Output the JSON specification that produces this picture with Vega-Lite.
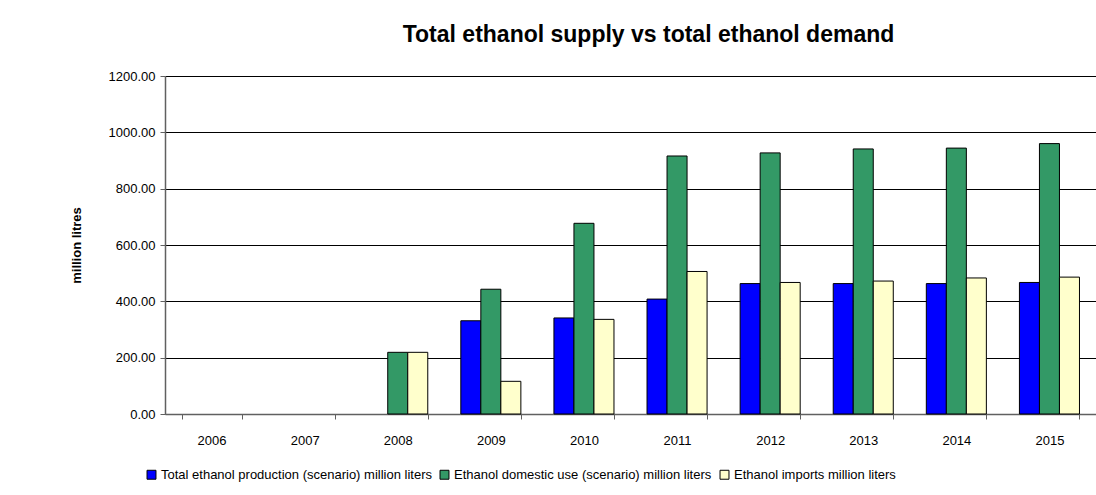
{
  "$schema": "https://vega.github.io/schema/vega-lite/v6.json",
  "autosize": {"type": "none"},
  "width": 931,
  "height": 338,
  "padding": {"left": 165, "top": 76, "right": 0, "bottom": 81},
  "background": "white",
  "title": {
    "text": "Total ethanol supply vs total ethanol demand",
    "font": "Liberation Sans",
    "fontSize": 23,
    "fontWeight": "bold",
    "color": "black",
    "anchor": "middle",
    "dx": 18,
    "offset": 23
  },
  "data": {
    "values": [
      {"year": "2006", "series": "Total ethanol production (scenario) million liters", "value": null},
      {"year": "2006", "series": "Ethanol domestic use (scenario) million liters", "value": null},
      {"year": "2006", "series": "Ethanol imports million liters", "value": null},
      {"year": "2007", "series": "Total ethanol production (scenario) million liters", "value": null},
      {"year": "2007", "series": "Ethanol domestic use (scenario) million liters", "value": null},
      {"year": "2007", "series": "Ethanol imports million liters", "value": null},
      {"year": "2008", "series": "Total ethanol production (scenario) million liters", "value": null},
      {"year": "2008", "series": "Ethanol domestic use (scenario) million liters", "value": 219},
      {"year": "2008", "series": "Ethanol imports million liters", "value": 219},
      {"year": "2009", "series": "Total ethanol production (scenario) million liters", "value": 331},
      {"year": "2009", "series": "Ethanol domestic use (scenario) million liters", "value": 443},
      {"year": "2009", "series": "Ethanol imports million liters", "value": 116},
      {"year": "2010", "series": "Total ethanol production (scenario) million liters", "value": 341},
      {"year": "2010", "series": "Ethanol domestic use (scenario) million liters", "value": 677},
      {"year": "2010", "series": "Ethanol imports million liters", "value": 336},
      {"year": "2011", "series": "Total ethanol production (scenario) million liters", "value": 408},
      {"year": "2011", "series": "Ethanol domestic use (scenario) million liters", "value": 916},
      {"year": "2011", "series": "Ethanol imports million liters", "value": 506},
      {"year": "2012", "series": "Total ethanol production (scenario) million liters", "value": 463},
      {"year": "2012", "series": "Ethanol domestic use (scenario) million liters", "value": 927},
      {"year": "2012", "series": "Ethanol imports million liters", "value": 467},
      {"year": "2013", "series": "Total ethanol production (scenario) million liters", "value": 463},
      {"year": "2013", "series": "Ethanol domestic use (scenario) million liters", "value": 941},
      {"year": "2013", "series": "Ethanol imports million liters", "value": 472},
      {"year": "2014", "series": "Total ethanol production (scenario) million liters", "value": 463},
      {"year": "2014", "series": "Ethanol domestic use (scenario) million liters", "value": 944},
      {"year": "2014", "series": "Ethanol imports million liters", "value": 483},
      {"year": "2015", "series": "Total ethanol production (scenario) million liters", "value": 467},
      {"year": "2015", "series": "Ethanol domestic use (scenario) million liters", "value": 960},
      {"year": "2015", "series": "Ethanol imports million liters", "value": 486}
    ]
  },
  "mark": {"type": "bar", "stroke": "black", "strokeWidth": 1},
  "encoding": {
    "x": {
      "field": "year",
      "type": "nominal",
      "scale": {
        "domain": ["2006", "2007", "2008", "2009", "2010", "2011", "2012", "2013", "2014", "2015"],
        "paddingInner": 0.355,
        "paddingOuter": 0.1775
      },
      "axis": {
        "title": null,
        "labelAngle": 0,
        "tickBand": "extent",
        "domainColor": "#606060",
        "domainWidth": 1.5,
        "tickColor": "#606060",
        "tickSize": 5,
        "labelPadding": 15,
        "labelFont": "Liberation Sans",
        "labelFontSize": 13,
        "labelColor": "black",
        "grid": false
      }
    },
    "xOffset": {
      "field": "series",
      "type": "nominal",
      "sort": [
        "Total ethanol production (scenario) million liters",
        "Ethanol domestic use (scenario) million liters",
        "Ethanol imports million liters"
      ]
    },
    "y": {
      "field": "value",
      "type": "quantitative",
      "scale": {"domain": [0, 1200], "nice": false},
      "axis": {
        "title": "million litres",
        "titleFont": "Liberation Sans",
        "titleFontSize": 13,
        "titleFontWeight": "bold",
        "titleColor": "black",
        "titlePadding": 25,
        "values": [0, 200, 400, 600, 800, 1000, 1200],
        "format": ".2f",
        "labelFont": "Liberation Sans",
        "labelFontSize": 13,
        "labelColor": "black",
        "labelPadding": 5,
        "tickSize": 5,
        "tickColor": "#606060",
        "domainColor": "#606060",
        "domainWidth": 1.5,
        "grid": true,
        "gridColor": "black",
        "gridWidth": 1
      }
    },
    "color": {
      "field": "series",
      "type": "nominal",
      "sort": [
        "Total ethanol production (scenario) million liters",
        "Ethanol domestic use (scenario) million liters",
        "Ethanol imports million liters"
      ],
      "scale": {
        "domain": [
          "Total ethanol production (scenario) million liters",
          "Ethanol domestic use (scenario) million liters",
          "Ethanol imports million liters"
        ],
        "range": ["#0000FF", "#339966", "#FFFFCC"]
      },
      "legend": {
        "title": null,
        "orient": "none",
        "legendX": -20,
        "legendY": 392,
        "direction": "horizontal",
        "symbolType": "square",
        "symbolSize": 80,
        "symbolStrokeColor": "black",
        "symbolStrokeWidth": 1,
        "symbolOpacity": 1,
        "labelFont": "Liberation Sans",
        "labelFontSize": 13,
        "labelColor": "black",
        "labelLimit": 400,
        "columnPadding": 6,
        "labelOffset": 3
      }
    }
  },
  "config": {
    "view": {"stroke": null}
  }
}
